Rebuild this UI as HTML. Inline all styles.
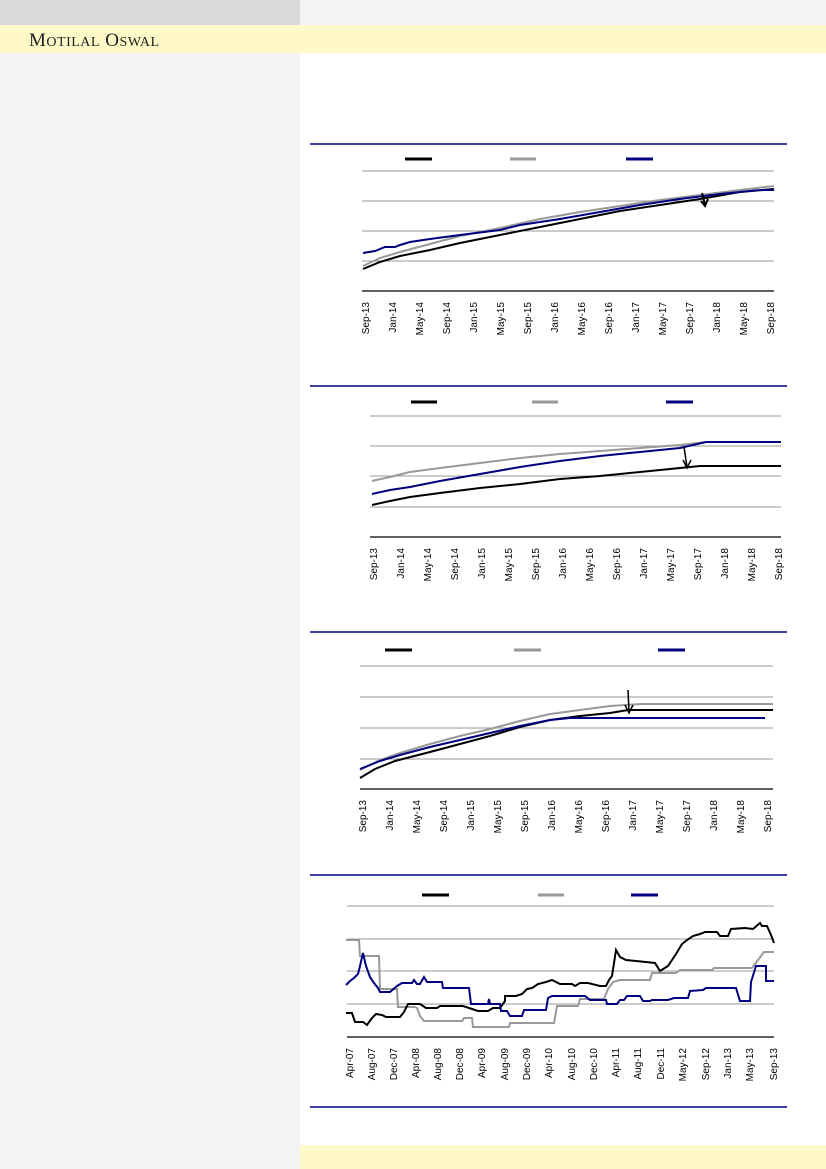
<!DOCTYPE html>
<html><head><meta charset="utf-8"><style>
body{margin:0;width:826px;height:1169px;position:relative;background:#fff;font-family:"Liberation Sans",sans-serif;overflow:hidden}
.a{position:absolute}
</style></head><body>
<div class="a" style="left:0;top:0;width:300px;height:1169px;background:#f4f4f4"></div>
<div class="a" style="left:0;top:0;width:300px;height:25px;background:#dadada"></div>
<div class="a" style="left:300px;top:0;width:526px;height:25px;background:#f4f4f4"></div>
<div class="a" style="left:0;top:25px;width:826px;height:28px;background:#fff8c8"></div>
<div class="a" style="left:29px;top:30px;font-family:'Liberation Serif',serif;font-size:19px;color:#222;letter-spacing:0.5px">M<span style="font-size:14px">OTILAL</span> O<span style="font-size:14px">SWAL</span></div>
<div class="a" style="left:300px;top:1145px;width:526px;height:24px;background:#fff8c8"></div>
<svg class="a" style="left:0;top:0" width="826" height="1169" font-family="Liberation Sans, sans-serif" font-size="10">
<g stroke="#000080" stroke-width="1.5">
<line x1="310" y1="144" x2="787" y2="144"/><line x1="310" y1="386" x2="787" y2="386"/><line x1="310" y1="632" x2="787" y2="632"/><line x1="310" y1="875" x2="787" y2="875"/><line x1="310" y1="1107" x2="787" y2="1107"/>
</g>
<!-- chart1 -->
<g stroke-width="3"><line x1="405" y1="159" x2="432" y2="159" stroke="#000"/><line x1="510" y1="159" x2="536" y2="159" stroke="#999"/><line x1="626" y1="159" x2="653" y2="159" stroke="#000080"/></g>
<g stroke="#999" stroke-width="1"><line x1="362" y1="171" x2="774" y2="171"/><line x1="362" y1="201" x2="774" y2="201"/><line x1="362" y1="231" x2="774" y2="231"/><line x1="362" y1="261" x2="774" y2="261"/></g>
<line x1="362" y1="291" x2="774" y2="291" stroke="#000" stroke-width="1.2"/>
<g fill="none" stroke-width="2">
<polyline stroke="#999" points="363,266 380,258 400,252 430,244 460,236 500,228 540,219 580,212 620,206 660,200 700,195 740,190 774,186"/>
<polyline stroke="#000" points="363,269 380,262 400,256 430,250 460,243 500,235 540,227 580,219 620,211 660,205 700,199 740,192 774,189"/>
<polyline stroke="#000080" points="363,253 375,251 385,247 395,247 400,245 410,242 430,239 460,235 500,230 520,225 560,219 600,212 640,205 680,199 720,194 760,190 774,190"/>
</g>
<path d="M702,193 L705,205 M701,201 L705,206 L708,199" stroke="#000" stroke-width="2" fill="none"/>
<g id="l1" text-anchor="end" fill="#000">
<text transform="translate(369,302) rotate(-90)">Sep-13</text><text transform="translate(396,302) rotate(-90)">Jan-14</text><text transform="translate(423,302) rotate(-90)">May-14</text><text transform="translate(450,302) rotate(-90)">Sep-14</text><text transform="translate(477,302) rotate(-90)">Jan-15</text><text transform="translate(504,302) rotate(-90)">May-15</text><text transform="translate(531,302) rotate(-90)">Sep-15</text><text transform="translate(558,302) rotate(-90)">Jan-16</text><text transform="translate(585,302) rotate(-90)">May-16</text><text transform="translate(612,302) rotate(-90)">Sep-16</text><text transform="translate(639,302) rotate(-90)">Jan-17</text><text transform="translate(666,302) rotate(-90)">May-17</text><text transform="translate(693,302) rotate(-90)">Sep-17</text><text transform="translate(720,302) rotate(-90)">Jan-18</text><text transform="translate(747,302) rotate(-90)">May-18</text><text transform="translate(774,302) rotate(-90)">Sep-18</text>
</g>
<!-- chart2 -->
<g stroke-width="3"><line x1="411" y1="402" x2="437" y2="402" stroke="#000"/><line x1="532" y1="402" x2="558" y2="402" stroke="#999"/><line x1="666" y1="402" x2="693" y2="402" stroke="#000080"/></g>
<g stroke="#999" stroke-width="1"><line x1="370" y1="416" x2="781" y2="416"/><line x1="370" y1="446" x2="781" y2="446"/><line x1="370" y1="476" x2="781" y2="476"/><line x1="370" y1="507" x2="781" y2="507"/></g>
<line x1="370" y1="537" x2="781" y2="537" stroke="#000" stroke-width="1.2"/>
<g fill="none" stroke-width="2">
<polyline stroke="#999" points="372,481 390,477 410,472 440,468 480,463 520,458 560,454 600,451 640,448 680,445 706,442 781,442"/>
<polyline stroke="#000080" points="372,494 390,490 410,487 440,481 480,474 520,467 560,461 600,456 640,452 680,448 706,442 781,442"/>
<polyline stroke="#000" points="372,505 390,501 410,497 440,493 480,488 520,484 560,479 600,476 640,472 680,468 700,466 781,466"/>
</g>
<path d="M684,447 L687,467 M683,460 L687,468 L691,460" stroke="#000" stroke-width="1.5" fill="none"/>
<g text-anchor="end"><text transform="translate(377,548) rotate(-90)">Sep-13</text><text transform="translate(404,548) rotate(-90)">Jan-14</text><text transform="translate(431,548) rotate(-90)">May-14</text><text transform="translate(458,548) rotate(-90)">Sep-14</text><text transform="translate(485,548) rotate(-90)">Jan-15</text><text transform="translate(512,548) rotate(-90)">May-15</text><text transform="translate(539,548) rotate(-90)">Sep-15</text><text transform="translate(566,548) rotate(-90)">Jan-16</text><text transform="translate(593,548) rotate(-90)">May-16</text><text transform="translate(620,548) rotate(-90)">Sep-16</text><text transform="translate(647,548) rotate(-90)">Jan-17</text><text transform="translate(674,548) rotate(-90)">May-17</text><text transform="translate(701,548) rotate(-90)">Sep-17</text><text transform="translate(728,548) rotate(-90)">Jan-18</text><text transform="translate(755,548) rotate(-90)">May-18</text><text transform="translate(782,548) rotate(-90)">Sep-18</text></g>
<!-- chart3 -->
<g stroke-width="3"><line x1="385" y1="650" x2="412" y2="650" stroke="#000"/><line x1="514" y1="650" x2="541" y2="650" stroke="#999"/><line x1="658" y1="650" x2="685" y2="650" stroke="#000080"/></g>
<g stroke="#999" stroke-width="1"><line x1="360" y1="666" x2="773" y2="666"/><line x1="360" y1="697" x2="773" y2="697"/><line x1="360" y1="728" x2="773" y2="728"/><line x1="360" y1="759" x2="773" y2="759"/></g>
<line x1="360" y1="789" x2="773" y2="789" stroke="#000" stroke-width="1.2"/>
<g fill="none" stroke-width="2">
<polyline stroke="#999" points="360,770 380,760 400,753 430,744 460,736 490,729 520,721 550,714 580,710 610,706 640,704 773,704"/>
<polyline stroke="#000" points="360,778 375,769 395,761 430,752 460,744 490,736 520,727 550,720 580,716 610,713 628,710 773,710"/>
<polyline stroke="#000080" points="360,769 380,761 400,755 430,747 460,740 490,733 520,726 550,720 570,718 765,718"/>
</g>
<path d="M628,690 L629,712 M625,705 L629,713 L633,705" stroke="#000" stroke-width="1.5" fill="none"/>
<g text-anchor="end"><text transform="translate(366,800) rotate(-90)">Sep-13</text><text transform="translate(393,800) rotate(-90)">Jan-14</text><text transform="translate(420,800) rotate(-90)">May-14</text><text transform="translate(447,800) rotate(-90)">Sep-14</text><text transform="translate(474,800) rotate(-90)">Jan-15</text><text transform="translate(501,800) rotate(-90)">May-15</text><text transform="translate(528,800) rotate(-90)">Sep-15</text><text transform="translate(555,800) rotate(-90)">Jan-16</text><text transform="translate(582,800) rotate(-90)">May-16</text><text transform="translate(609,800) rotate(-90)">Sep-16</text><text transform="translate(636,800) rotate(-90)">Jan-17</text><text transform="translate(663,800) rotate(-90)">May-17</text><text transform="translate(690,800) rotate(-90)">Sep-17</text><text transform="translate(717,800) rotate(-90)">Jan-18</text><text transform="translate(744,800) rotate(-90)">May-18</text><text transform="translate(771,800) rotate(-90)">Sep-18</text></g>
<!-- chart4 -->
<g stroke-width="3"><line x1="422" y1="895" x2="449" y2="895" stroke="#000"/><line x1="538" y1="895" x2="564" y2="895" stroke="#999"/><line x1="631" y1="895" x2="658" y2="895" stroke="#000080"/></g>
<g stroke="#999" stroke-width="1"><line x1="347" y1="906" x2="774" y2="906"/><line x1="347" y1="939" x2="774" y2="939"/><line x1="347" y1="971" x2="774" y2="971"/><line x1="347" y1="1004" x2="774" y2="1004"/></g>
<line x1="347" y1="1037" x2="774" y2="1037" stroke="#000" stroke-width="1.2"/>
<g fill="none" stroke-width="2">
<polyline stroke="#999" points="346,940 359,940 360,956 379,956 380,989 397,989 398,1007 415,1007 417,1008 420,1016 424,1021 462,1021 464,1018 472,1018 473,1027 509,1027 510,1023 554,1023 557,1006 578,1006 580,999 604,999 608,989 613,982 620,980 650,980 652,973 676,973 680,970 712,970 714,968 752,968 755,964 764,952 774,952"/>
<polyline stroke="#000" points="346,1013 352,1013 355,1022 363,1022 367,1025 372,1018 376,1014 382,1015 386,1017 400,1017 404,1012 408,1004 420,1004 426,1008 437,1008 440,1006 463,1006 478,1011 488,1011 493,1008 500,1008 505,1001 505,996 516,996 522,994 527,989 532,988 538,984 546,982 552,980 560,984 572,984 575,986 580,983 588,983 600,986 606,986 609,980 612,976 616,950 620,957 626,960 636,961 655,963 660,971 668,966 676,954 682,944 687,940 693,936 700,934 705,932 717,932 720,936 728,936 731,929 745,928 753,929 760,923 762,926 767,926 771,935 774,943"/>
<polyline stroke="#000080" points="346,985 350,981 354,978 358,974 360,966 363,953 366,966 370,977 374,983 378,988 380,992 390,992 397,986 402,983 412,983 414,980 417,984 420,984 424,977 427,982 442,982 443,988 469,988 471,1004 488,1004 489,999 490,1004 500,1004 501,1011 507,1011 510,1016 522,1016 524,1010 546,1010 548,998 552,996 585,996 590,1000 606,1000 607,1004 617,1004 620,1000 624,1000 627,996 640,996 643,1001 650,1001 652,1000 668,1000 674,998 688,998 690,991 703,990 706,988 736,988 740,1001 750,1001 751,982 756,966 766,966 766,981 774,981"/>
</g>
<g text-anchor="end"><text transform="translate(353,1048) rotate(-90)">Apr-07</text><text transform="translate(375,1048) rotate(-90)">Aug-07</text><text transform="translate(397,1048) rotate(-90)">Dec-07</text><text transform="translate(419,1048) rotate(-90)">Apr-08</text><text transform="translate(441,1048) rotate(-90)">Aug-08</text><text transform="translate(463,1048) rotate(-90)">Dec-08</text><text transform="translate(485,1048) rotate(-90)">Apr-09</text><text transform="translate(508,1048) rotate(-90)">Aug-09</text><text transform="translate(530,1048) rotate(-90)">Dec-09</text><text transform="translate(552,1048) rotate(-90)">Apr-10</text><text transform="translate(575,1048) rotate(-90)">Aug-10</text><text transform="translate(597,1048) rotate(-90)">Dec-10</text><text transform="translate(619,1048) rotate(-90)">Apr-11</text><text transform="translate(641,1048) rotate(-90)">Aug-11</text><text transform="translate(664,1048) rotate(-90)">Dec-11</text><text transform="translate(686,1048) rotate(-90)">May-12</text><text transform="translate(709,1048) rotate(-90)">Sep-12</text><text transform="translate(731,1048) rotate(-90)">Jan-13</text><text transform="translate(753,1048) rotate(-90)">May-13</text><text transform="translate(777,1048) rotate(-90)">Sep-13</text></g>
</svg>
</body></html>
